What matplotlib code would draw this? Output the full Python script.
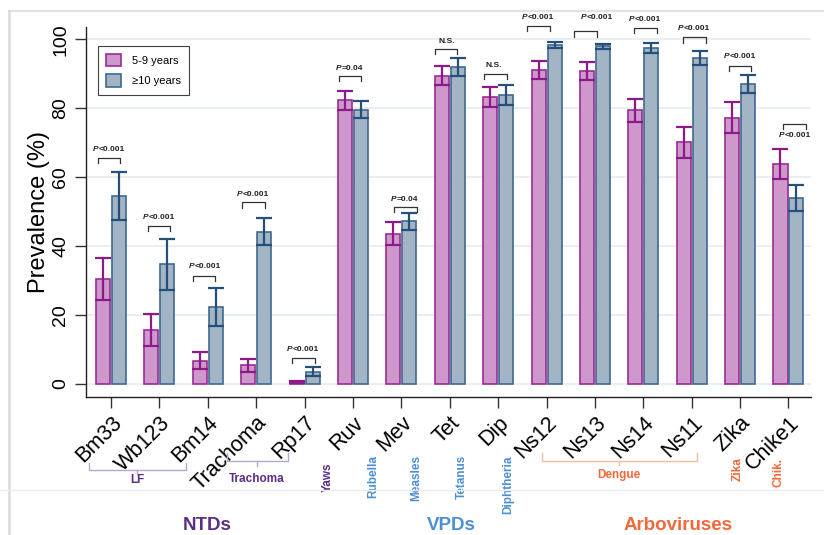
import numpy as np
import matplotlib
matplotlib.use("Agg")
import matplotlib.pyplot as plt
import matplotlib.transforms as mtransforms
from matplotlib.lines import Line2D
from matplotlib.patches import Patch

plt.rcParams['font.family'] = ['Liberation Sans', 'DejaVu Sans']

# ---- data -------------------------------------------------------------
categories = ['Bm33', 'Wb123', 'Bm14', 'Trachoma', 'Rp17', 'Ruv', 'Mev', 'Tet',
              'Dip', 'Ns12', 'Ns13', 'Ns14', 'Ns11', 'Zika', 'Chike1']
prev_5_9 = [30.5, 15.6, 6.8, 5.4, 0.5, 82.3, 43.6, 89.5, 83.2, 91.1, 90.8, 79.4, 70.1, 77.3, 63.8]
err_5_9 = [6.0, 4.7, 2.5, 1.8, 0.3, 2.8, 3.4, 2.8, 2.9, 2.5, 2.7, 3.4, 4.4, 4.4, 4.4]
prev_10 = [54.5, 34.7, 22.4, 44.2, 3.5, 79.6, 47.2, 92.0, 83.9, 98.3, 98.0, 97.5, 94.5, 87.1, 54.1]
err_10 = [7.0, 7.4, 5.5, 4.0, 1.3, 2.4, 2.4, 2.5, 3.0, 0.9, 0.8, 1.4, 2.0, 2.7, 3.8]
series_labels = ['5-9 years', '\u226510 years']
p_values = ['P<0.001', 'P<0.001', 'P<0.001', 'P<0.001', 'P<0.001', 'P=0.04', 'P=0.04',
            'N.S.', 'N.S.', 'P<0.001', 'P<0.001', 'P<0.001', 'P<0.001', 'P<0.001', 'P<0.001']
y_ticks = [0, 20, 40, 60, 80, 100]

# significance bracket layout (bracket height, label height, horizontal shifts)
bracket_y = [65.5, 46.0, 31.4, 52.7, 7.6, 89.4, 51.3, 97.3, 90.1, 104.0, 102.3, 103.3, 100.6, 92.4, 75.4]
label_y = [68.1, 48.3, 34.0, 55.0, 10.0, 91.7, 53.6, 99.5, 92.3, 106.4, 106.3, 105.8, 103.2, 94.9, 72.0]
bracket_dx = [-0.04, -0.01, -0.08, -0.05, -0.03, -0.06, 0.08, -0.08, -0.06, -0.17, -0.19, 0.04, 0.06, 0.0, 0.12]
label_dx = [-0.07, -0.04, -0.09, -0.09, -0.06, -0.08, 0.05, -0.06, -0.09, -0.2, 0.01, 0.0, 0.02, -0.04, 0.11]

# colours
pink_fill, pink_edge, pink_err = '#cf98cc', '#9a2d95', '#8c1a88'
blue_fill, blue_edge, blue_err = '#a3b4c5', '#3f6a90', '#24507a'
ntd_col, vpd_col, arbo_col = '#5b2d85', '#4b8fd6', '#f1693a'
ntd_light, arbo_light = '#b9a5d2', '#f6bc9f'

fig = plt.figure(figsize=(8.24, 5.35), dpi=100)
ax = fig.add_axes([0.1044, 0.2579, 0.8795, 0.6916])

x = np.arange(len(categories))
w = 0.29
off = 0.165

ax.bar(x - off, prev_5_9, width=w, color=pink_fill, edgecolor=pink_edge, linewidth=1.2, zorder=3)
ax.bar(x + off, prev_10, width=w, color=blue_fill, edgecolor=blue_edge, linewidth=1.2, zorder=3)
ax.errorbar(x - off, prev_5_9, yerr=err_5_9, fmt='none', ecolor=pink_err,
            elinewidth=1.6, capsize=6, capthick=1.6, zorder=4)
ax.errorbar(x + off, prev_10, yerr=err_10, fmt='none', ecolor=blue_err,
            elinewidth=1.6, capsize=6, capthick=1.6, zorder=4)

ax.set_xlim(-0.517, 14.46)
ax.set_ylim(-3.77, 103.6)
ax.set_yticks(y_ticks)
ax.set_yticklabels([str(t) for t in y_ticks], rotation=90, va='center', fontsize=14)
ax.set_xticks(x)
ax.set_xticklabels(categories, rotation=45, ha='right', rotation_mode='anchor', fontsize=15.5)
ax.tick_params(axis='both', length=8, width=1, color='#333333', pad=4)
ax.tick_params(axis='x', pad=3)
ax.set_ylabel('Prevalence (%)', fontsize=17, labelpad=2)

for t in y_ticks:
    ax.axhline(t, color='#e4ecf1', linewidth=1.2, zorder=1)

for side in ('top', 'right'):
    ax.spines[side].set_visible(False)
for side in ('left', 'bottom'):
    ax.spines[side].set_color('#222222')
    ax.spines[side].set_linewidth(1.0)

# significance brackets
half = 0.235
leg = 1.5
for i, (txt, by, ty, bdx, tdx) in enumerate(zip(p_values, bracket_y, label_y, bracket_dx, label_dx)):
    cx = x[i] + bdx
    ax.plot([cx - half, cx - half, cx + half, cx + half], [by - leg, by, by, by - leg],
            color='#333333', linewidth=0.9, clip_on=False, zorder=5)
    if txt.startswith('P'):
        rest = txt[1:]
        shift = -10.5 if rest.startswith('<') else -9.5
        p_txt = ax.annotate('P', xy=(x[i] + tdx, ty), xytext=(shift, 0), textcoords='offset points',
                            ha='left', va='center', fontsize=6, fontweight='bold',
                            fontstyle='italic', color='#222222', annotation_clip=False, zorder=5)
        ax.annotate(rest, xy=(1, 0), xycoords=p_txt, ha='left', va='bottom', fontsize=6,
                    fontweight='bold', color='#222222', annotation_clip=False, zorder=5)
    else:
        ax.text(x[i] + tdx, ty, txt, ha='center', va='center', fontsize=6,
                fontweight='bold', color='#222222', clip_on=False, zorder=5)

legend_handles = [Patch(facecolor=pink_fill, edgecolor=pink_edge, linewidth=1.2),
                  Patch(facecolor=blue_fill, edgecolor=blue_edge, linewidth=1.2)]
leg_obj = ax.legend(legend_handles, series_labels, loc='upper left', bbox_to_anchor=(0.017, 0.949),
                    fontsize=8, frameon=True, fancybox=False, edgecolor='#111111',
                    handlelength=1.35, handleheight=1.35, handletextpad=1.0,
                    labelspacing=0.75, borderpad=0.7, borderaxespad=0)
leg_obj.get_frame().set_linewidth(0.8)

# disease annotations beneath the axis (x in data units, y in figure fraction)
trans = mtransforms.blended_transform_factory(ax.transData, fig.transFigure)

def fy(py):
    return 1 - py / 535.0

def brace(x0, x1, xm, y, y_end, y_notch, color):
    ax.plot([x0, x0, x1, x1], [fy(y_end), fy(y), fy(y), fy(y_end)], color=color,
            linewidth=1.0, transform=trans, clip_on=False)
    ax.plot([xm, xm], [fy(y), fy(y_notch)], color=color, linewidth=1.0,
            transform=trans, clip_on=False)

brace(-0.455, 1.55, 0.54, 470, 462.7, 474, ntd_light)
brace(2.39, 3.65, 3.02, 460.7, 453, 466, ntd_light)
brace(8.9, 12.11, 10.5, 460.7, 453.3, 465, arbo_light)

horizontal_labels = [('LF', 0.54, 480, ntd_col), ('Trachoma', 3.02, 479.3, ntd_col),
                     ('Dengue', 10.5, 475, arbo_col)]
for txt, xx, yy, col in horizontal_labels:
    ax.text(xx, fy(yy), txt, transform=trans, ha='center', va='center', fontsize=8.5,
            fontweight='bold', color=col, clip_on=False)

vertical_labels = [('Yaws', 4.48, 463, ntd_col), ('Rubella', 5.42, 455, vpd_col),
                   ('Measles', 6.30, 455, vpd_col), ('Tetanus', 7.25, 455, vpd_col),
                   ('Diphtheria', 8.21, 455, vpd_col), ('Zika', 12.94, 456.7, arbo_col),
                   ('Chik.', 13.80, 458, arbo_col)]
for txt, xx, yy, col in vertical_labels:
    ax.text(xx, fy(yy), txt, transform=trans, ha='center', va='top', rotation=90,
            fontsize=8.5, fontweight='bold', color=col, clip_on=False)

group_labels = [('NTDs', 1.98, ntd_col), ('VPDs', 7.03, vpd_col), ('Arboviruses', 11.72, arbo_col)]
for txt, xx, col in group_labels:
    ax.text(xx, fy(525), txt, transform=trans, ha='center', va='center', fontsize=13.5,
            fontweight='bold', color=col, clip_on=False)

# light panel frame lines
fig.add_artist(Line2D([0.0109, 1.0], [0.9794, 0.9794], color='#e2e2e2', linewidth=1.5,
                      transform=fig.transFigure))
fig.add_artist(Line2D([0.0109, 0.0109], [0.0, 0.9794], color='#dadada', linewidth=1.8,
                      transform=fig.transFigure))
fig.add_artist(Line2D([0.0, 1.0], [fy(490), fy(490)], color='#ececec', linewidth=1.0,
                      transform=fig.transFigure))

fig.savefig('out.png', dpi=100)
